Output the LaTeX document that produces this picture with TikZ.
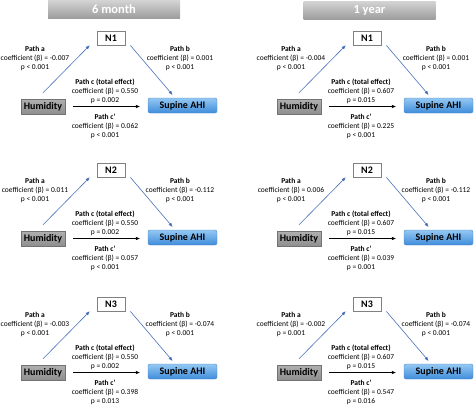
\documentclass[tikz,border=0pt]{standalone}
\usepackage{fontspec}
\setmainfont{Carlito}
\usetikzlibrary{arrows.meta}
\definecolor{barlight}{HTML}{D2D2D2}
\definecolor{bardark}{HTML}{9C9C9C}
\definecolor{humlight}{HTML}{B0B0B0}
\definecolor{humdark}{HTML}{8E8E8E}
\definecolor{ahilight}{HTML}{94C8F3}
\definecolor{ahidark}{HTML}{3F8CDA}
\definecolor{ahiedge}{HTML}{4A86C5}
\definecolor{pathblue}{HTML}{4A72B8}

\begin{document}
\begin{tikzpicture}[x=1pt,y=-1pt,
    coef/.style={font=\fontsize{7.5}{9}\selectfont, align=center, inner sep=0pt},
    titlebar/.style={top color=barlight, bottom color=bardark, text=white,
        font=\fontsize{12.5}{14}\selectfont\bfseries, minimum width=132pt, minimum height=18pt, inner sep=0pt},
    medbox/.style={draw=gray, line width=0.8pt, fill=white, font=\fontsize{10}{12}\selectfont\bfseries,
        minimum width=28pt, minimum height=14pt, inner sep=0pt},
    humbox/.style={draw=gray!90!black, top color=humlight, bottom color=humdark, font=\fontsize{10}{12}\selectfont\bfseries,
        minimum width=44pt, minimum height=15pt, inner sep=0pt},
    ahibox/.style={draw=ahiedge, top color=ahilight, bottom color=ahidark, rounded corners=2pt,
        font=\fontsize{10}{12}\selectfont\bfseries, minimum width=69pt, minimum height=15pt, inner sep=0pt},
    blueline/.style={draw=pathblue, line width=0.6pt, -{Triangle[length=4pt,width=3pt]}},
    blackline/.style={line width=0.6pt, -{Triangle[length=4pt,width=3pt]}}]
\useasboundingbox (0,0) rectangle (474,405);
% column titles
\node[titlebar] (t6m) at (114,9.5) {6 month};
\node[titlebar] (t1y) at (369.5,10.5) {1 year};
% one mediation triangle per panel
\foreach \px/\py/\nlab/\ka/\qa/\kb/\qb/\kc/\qc/\kd/\qd [count=\i] in {
    0/0/N1/-0.007/p < 0.001/0.001/p < 0.001/0.550/p = 0.002/0.062/p < 0.001,
    0/132/N2/0.011/p < 0.001/-0.112/p < 0.001/0.550/p = 0.002/0.057/p < 0.001,
    0/266/N3/-0.003/p < 0.001/-0.074/p < 0.001/0.550/p = 0.002/0.398/p = 0.013,
    256/0/N1/-0.004/p < 0.001/0.001/p < 0.001/0.607/p = 0.015/0.225/p < 0.001,
    256/132/N2/0.006/p < 0.001/-0.112/p < 0.001/0.607/p = 0.015/0.039/p = 0.001,
    256/266/N3/-0.002/p = 0.001/-0.074/p < 0.001/0.607/p = 0.015/0.547/p = 0.016}{
  \begin{scope}[shift={(\px,\py)}]
    \node[medbox] (med\i) at (111,38) {\nlab};
    \node[humbox] (hum\i) at (43,106.5) {Humidity};
    \node[ahibox] (ahi\i) at (182.5,105.5) {Supine AHI};
    \draw[blueline] ([yshift=6pt]hum\i.north) -- ([xshift=-7pt]med\i.south west);
    \draw[blueline] ([xshift=5pt]med\i.south east) -- ([xshift=-10pt,yshift=3pt]ahi\i.north);
    \draw[blackline, shorten <=8pt, shorten >=8pt] (hum\i.east) -- (hum\i.east -| ahi\i.west);
    \node[coef] (pa\i) at (35,58) {\textbf{Path a}\\coefficient (β) = \ka\\\qa};
    \node[coef] (pb\i) at (180,58) {\textbf{Path b}\\coefficient (β) = \kb\\\qb};
    \node[coef] (pc\i) at (105,91) {\textbf{Path c (total effect)}\\coefficient (β) = \kc\\\qc};
    \node[coef] (pd\i) at (105,126) {\textbf{Path c’}\\coefficient (β) = \kd\\\qd};
  \end{scope}
}
\end{tikzpicture}
\end{document}
